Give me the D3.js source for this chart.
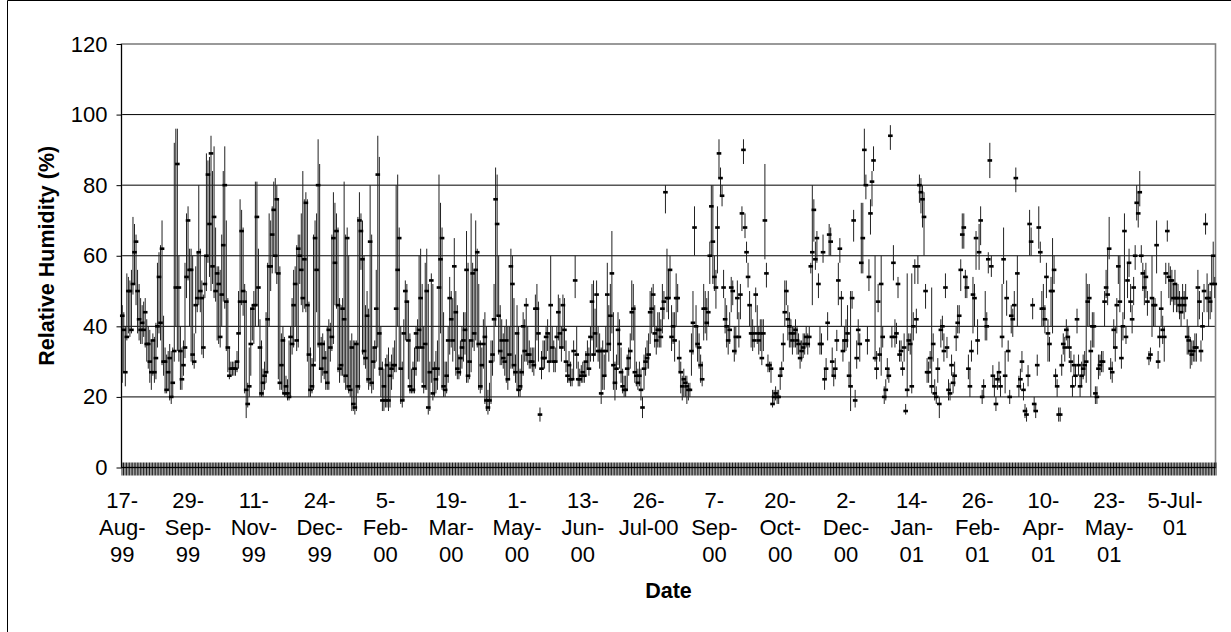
<!DOCTYPE html>
<html>
<head>
<meta charset="utf-8">
<script src="https://cdn.jsdelivr.net/npm/d3@7"></script>
<style>
  html, body { margin: 0; padding: 0; background: #fff; }
  svg { display: block; font-family: "Liberation Sans", Arial, sans-serif; }
</style>
</head>
<body>
<script>
// daily relative humidity, 17-Aug-99 .. 31-Jul-01 (one value per day)
var startDate = new Date(Date.UTC(1999, 7, 17));

var closes = [
  43,39,27,37,50,50,39,52,61,64, 50,42,39,41,39,44,35,35,30,27, 36,27,31,40,54,41,62,30,30,22,
  27,31,20,24,33,51,86,51,33,25, 29,34,54,70,56,56,32,30,46,48, 61,50,48,34,52,60,83,69,89,57,
  71,50,55,52,37,49,63,80,47,34, 26,28,28,28,28,30,38,47,67,50, 47,22,18,23,35,45,46,46,71,51,
  34,21,24,26,27,42,57,57,66,73, 60,76,55,24,29,36,21,23,21,20, 37,35,46,52,36,62,60,56,48,59,
  75,46,32,22,23,29,65,56,80,35, 28,35,31,27,24,39,34,37,65,58, 67,46,28,29,45,42,26,65,23,22,
  34,18,17,35,23,70,67,59,33,31, 43,25,64,24,30,34,45,83,38,28, 19,23,19,29,19,26,28,29,
  29,45,56,65,28,19,38,50,47,36, 23,22,22,28,38,34,39,48,34,23, 35,50,17,27,53,21,28,25,28,51,
  59,65,23,22,26,36,48,42,36,57, 44,28,27,31,34,36,39,56,26,30, 36,55,38,56,61,35,23,29,35,37,
  19,17,19,30,32,42,76,69,43,33, 36,31,30,36,25,32,57,52,29,27, 38,22,23,27,40,33,46,32,32,30,
  30,29,45,
  45,38,15,28,31,31,37,38,30,46, 34,30,30,37,44,38,34,46,39,30, 26,29,25,25,33,53,32,25,25,26,
  27,26,30,32,28,37,47,32,38,49, 33,33,21,33,26,33,49,35,43,55, 29,24,28,39,35,27,23,22,22,28,
  31,33,44,45,27,26,24,26,22,17, 28,30,31,32,44,45,49,38,36,39, 39,37,45,47,78,48,48,56,37,40,
  36,48,48,31,27,23,25,24,23,22, 22,33,41,68,40,35,34,29,25,45, 45,41,44,60,74,64,54,51,68,89,
  82,77,51,42,40,36,39,51,50,33, 37,48,37,49,72,90,68,61,54,46, 38,38,36,49,38,36,38,31,38,70,
  55,29,29,28,18,20,21,20,20,26, 28,35,44,50,42,40,38,36,38,39, 36,35,31,33,34,35,37,35,37,57,
  61,73,59,65,52,35,35,61,25,28, 41,66,64,30,26,28,36,53,62,48, 33,36,36,38,26,23,48,70,19,31,
  39,35,58,65,90,80,36,54,72,81, 87,31,28,47,32,52,37,20,22,28, 26,94,37,58,37,38,52,32,33,28,
  34,16,22,36,35,23,40,57,42,57, 80,78,76,71,50,27,27,31,23,35, 21,20,28,18,39,40,33,51,
  34,22,21,29,24,26,37,41,43,56, 66,68,54,51,28,23,33,49,48,65, 36,61,70,20,23,42,40,59,87,57,
  26,23,18,25,27,23,37,59,26,48, 33,20,43,42,46,82,55,23,25,30, 22,16,15,26,69,64,46,18,16,29,
  68,61,45,45,42,54,38,35,50,50, 56,26,23,15,15,29,35,34,39,37, 34,30,23,29,26,42,29,23,
  26,28,29,30,47,48,33,40,40,21, 20,28,29,30,30,47,51,49,62,28, 27,39,34,46,57,47,31,40,67,37,
  53,58,47,42,51,60,75,72,78,60, 55,51,54,47,31,32,48,46,46,63, 30,37,45,39,37,55,67,54,53,53,
  48,52,48,48,46,44,48,46,48,37, 36,33,32,33,34,34,51,47,33,40, 50,69,48,48,47,52,60,52
];

var highs = [
  46,44,40,55,54,53,56,71,69,66, 56,52,48,46,47,48,42,40,39,36, 38,37,41,58,61,63,70,43,34,32,
  33,35,33,34,92,96,96,60,40,34, 36,58,72,74,62,62,60,38,57,61, 80,62,53,49,60,89,87,88,94,84,
  91,68,57,57,56,66,84,91,70,48, 34,30,30,30,30,33,50,76,73,68, 52,50,24,34,45,46,50,81,81,62,
  42,36,28,30,44,58,72,70,74,81, 82,80,76,57,38,40,37,26,25,36, 40,48,56,57,63,66,66,72,84,76,
  78,76,47,34,31,66,70,72,93,86, 37,38,36,33,40,42,41,66,78,75, 72,68,48,46,48,81,66,68,60,36,
  38,36,36,36,71,78,72,70,60,46, 50,45,80,66,34,36,56,94,88,40, 30,28,31,32,34,30,32,34,
  36,80,83,68,40,30,42,53,52,47, 38,28,30,34,40,42,60,62,52,40, 58,62,52,30,55,52,30,33,36,83,
  75,68,44,30,30,40,54,50,48,65, 50,46,32,36,40,44,44,67,58,36, 72,58,56,70,62,52,36,34,42,44,
  40,22,24,36,36,52,85,83,60,46, 42,38,40,42,40,40,62,60,48,32, 46,40,28,32,44,42,48,40,36,34,
  34,34,49,
  52,47,17,33,36,36,40,42,38,60, 40,36,34,40,49,48,40,49,48,36, 30,33,30,28,36,60,40,30,28,29,
  30,30,33,36,34,40,52,53,45,53, 40,38,34,36,32,40,58,46,52,67, 44,30,32,44,42,34,28,26,26,32,
  34,38,53,52,46,30,28,30,28,20, 32,34,36,38,50,51,52,46,40,44, 44,42,52,50,80,62,56,60,46,44,
  44,55,52,36,30,26,28,26,26,24, 24,38,50,74,46,40,38,32,30,52, 50,48,50,64,80,80,60,56,74,93,
  85,80,56,48,46,40,44,54,53,40, 40,53,44,52,74,93,72,64,58,50, 46,42,40,51,46,40,42,42,42,86,
  58,32,30,30,22,22,23,22,22,28, 30,38,53,53,46,44,42,40,40,42, 40,38,36,36,38,38,40,38,40,58,
  80,76,64,67,55,40,38,66,28,31, 44,69,68,34,28,31,39,58,65,50, 36,40,42,46,30,50,50,73,22,36,
  42,38,75,75,96,83,40,59,76,84, 91,60,33,52,34,60,40,23,25,31, 28,97,40,63,42,41,54,36,36,30,
  38,18,55,38,38,55,44,59,45,60, 83,82,80,78,52,31,30,33,51,38, 25,23,31,20,42,43,38,55,
  37,25,24,32,27,30,40,46,46,59, 72,72,56,54,32,28,36,54,52,67, 42,69,74,22,25,50,44,61,92,60,
  29,26,20,27,30,26,52,68,33,53, 36,22,46,45,50,85,60,26,28,33, 24,18,17,29,73,68,48,20,18,32,
  74,64,50,52,46,58,42,37,54,65, 60,28,25,17,17,32,38,37,42,40, 37,33,26,32,29,45,32,26,
  30,32,33,55,52,52,36,44,44,23, 23,32,32,33,33,50,56,62,71,31, 30,42,40,48,60,60,40,44,72,40,
  58,62,52,46,54,63,80,78,84,63, 58,56,58,50,33,34,60,48,48,70, 33,40,50,43,40,58,70,58,57,56,
  52,56,52,52,50,48,52,50,52,42, 40,37,36,36,38,38,56,50,36,44, 52,72,55,52,50,60,64,54
];

var lows = [
  24,27,23,36,38,37,38,49,52,46, 38,36,35,35,37,34,30,28,24,22, 26,24,25,34,38,36,29,26,21,21,
  22,19,18,20,30,40,33,30,22,22, 26,31,48,53,40,30,29,28,38,44, 46,44,32,31,48,50,58,54,50,52,
  48,47,36,35,34,40,47,45,33,27, 25,26,26,26,26,27,28,38,46,43, 21,14,17,20,26,36,35,40,46,40,
  20,20,20,22,24,27,40,50,55,60, 55,52,25,22,22,21,20,20,19,19, 20,32,34,40,33,34,52,46,44,45,
  44,30,20,20,21,22,30,44,34,28, 24,26,25,22,22,22,30,33,35,46, 45,27,24,26,26,24,22,22,21,20,
  16,16,15,16,21,22,56,32,29,28, 24,22,23,21,22,28,30,34,26,20, 16,16,17,17,16,17,22,25,
  27,27,40,28,18,17,19,36,36,25, 21,21,21,21,26,30,30,34,24,21, 22,22,15,16,24,19,20,21,22,26,
  38,22,20,20,21,24,32,34,30,33, 26,25,25,26,28,30,32,24,24,25, 27,34,33,36,34,22,21,22,28,18,
  16,15,16,18,26,30,40,43,32,29, 29,28,26,24,22,25,28,28,26,24, 22,20,20,22,26,30,30,29,28,28,
  27,26,28,
  36,30,13,25,28,28,31,33,27,30, 30,27,27,30,36,34,30,34,33,27, 24,24,23,23,25,48,28,23,23,24,
  24,24,26,28,26,30,36,30,32,34, 30,28,18,22,22,26,33,30,33,38, 22,19,22,29,28,24,21,20,20,22,
  26,28,36,36,24,23,22,23,19,14, 22,26,28,28,35,38,40,34,32,34, 34,34,38,42,72,44,42,48,33,35,
  30,40,44,27,21,19,20,20,18,19, 20,26,32,60,34,30,28,24,23,36, 38,36,40,52,60,52,50,45,55,82,
  77,74,48,38,34,32,35,44,46,30, 32,42,34,42,67,86,65,58,51,40, 34,33,34,44,35,32,33,29,33,59,
  51,27,27,24,17,18,19,18,18,22, 26,30,40,46,36,34,34,32,34,34, 32,32,28,30,31,32,34,32,34,55,
  46,64,56,58,48,32,32,58,22,25, 36,60,60,26,23,25,33,46,58,40, 30,33,33,34,23,16,45,64,17,28,
  35,30,55,55,80,76,32,50,66,74, 84,30,25,44,30,26,34,18,19,25, 24,90,34,53,34,35,48,30,30,26,
  30,15,20,33,32,21,36,52,38,52, 75,72,68,60,45,24,24,28,21,30, 19,18,24,14,34,36,30,48,
  31,19,19,26,21,23,33,38,38,50, 62,62,48,48,25,20,30,38,40,56, 32,56,63,18,20,36,36,55,82,54,
  23,20,16,22,24,20,34,52,21,43, 30,18,38,37,42,78,40,20,22,27, 19,14,13,23,60,60,42,16,14,26,
  62,58,40,40,38,48,30,30,40,38, 52,23,20,13,13,26,32,30,36,34, 31,27,20,26,23,38,26,20,
  23,25,26,24,40,40,20,34,34,18, 18,25,26,27,27,40,48,46,59,25, 24,34,30,38,52,44,28,36,42,35,
  48,54,44,38,46,56,70,68,74,58, 50,46,48,43,29,30,37,40,40,55, 28,34,40,35,30,52,64,48,46,47,
  44,46,44,44,42,40,44,42,44,32, 32,28,29,30,30,30,40,42,30,36, 44,66,44,40,42,44,52,48
];

var yTicks = [0, 20, 40, 60, 80, 100, 120];
var labelEvery = 43;
var xLabels = [
  ["17-", "Aug-", "99"], ["29-", "Sep-", "99"], ["11-", "Nov-", "99"], ["24-", "Dec-", "99"],
  ["5-", "Feb-", "00"], ["19-", "Mar-", "00"], ["1-", "May-", "00"], ["13-", "Jun-", "00"],
  ["26-", "Jul-00"], ["7-", "Sep-", "00"], ["20-", "Oct-", "00"], ["2-", "Dec-", "00"],
  ["14-", "Jan-", "01"], ["26-", "Feb-", "01"], ["10-", "Apr-", "01"], ["23-", "May-", "01"],
  ["5-Jul-", "01"]
];

function drawChart () {
  var w      = 1231,
      h      = 632,
      left   = 121.5,
      right  = 1215.5,
      top    = 44,
      bottom = 467.5;

  var dates = d3.utcDay.range(startDate, d3.utcDay.offset(startDate, closes.length));
  var days = dates.map(function (d, i) {
    return { date: d, hi: highs[i], lo: lows[i], cl: closes[i] };
  });

  var xScale = d3.scaleBand().domain(dates).range([left, right]);
  var xEdge  = d3.scaleLinear().domain([0, dates.length]).range([left, right]);
  var yScale = d3.scaleLinear().domain([0, 120]).range([bottom, top]);

  var svg = d3.select("body").append("svg")
    .attr("width", w)
    .attr("height", h);

  svg.append("rect").attr("width", w).attr("height", h).attr("fill", "#fff");

  // chart area frame (left and top edges are visible)
  svg.append("path")
    .attr("d", "M7.5," + h + "V0.5H" + w)
    .attr("fill", "none")
    .attr("stroke", "#000");

  // gridlines
  svg.append("g").selectAll("line")
    .data(yTicks.filter(function (d) { return d > 0 && d < 120; }))
    .enter().append("line")
    .attr("x1", left).attr("x2", right)
    .attr("y1", function (d) { return yScale(d); })
    .attr("y2", function (d) { return yScale(d); })
    .attr("stroke", "#000")
    .attr("stroke-width", 1);

  // plot area border
  svg.append("rect")
    .attr("x", left).attr("y", top)
    .attr("width", right - left).attr("height", bottom - top)
    .attr("fill", "none")
    .attr("stroke", "#808080")
    .attr("stroke-width", 1.6);

  // high-low bars
  var cx = function (d) { return xScale(d.date) + xScale.bandwidth() / 2; };
  svg.append("g").selectAll("line")
    .data(days)
    .enter().append("line")
    .attr("x1", cx).attr("x2", cx)
    .attr("y1", function (d) { return yScale(d.hi); })
    .attr("y2", function (d) { return yScale(d.lo); })
    .attr("stroke", "#222")
    .attr("stroke-width", 1);

  // close marks
  svg.append("g").selectAll("rect")
    .data(days)
    .enter().append("rect")
    .attr("x", function (d) { return cx(d) - 2.3; })
    .attr("y", function (d) { return yScale(d.cl) - 1.3; })
    .attr("width", 4.6)
    .attr("height", 2.6)
    .attr("fill", "#000");

  // y axis
  var yAxis = d3.axisLeft(yScale)
    .tickValues(yTicks)
    .tickSize(5)
    .tickPadding(9);
  var gy = svg.append("g")
    .attr("transform", "translate(" + left + ",0)")
    .call(yAxis);
  gy.select(".domain").remove();
  gy.selectAll("text").attr("font-size", 22).attr("fill", "#000")
    .attr("font-family", "Liberation Sans, Arial, sans-serif");
  gy.selectAll(".tick line").attr("stroke", "#000");
  svg.append("line")
    .attr("x1", left).attr("x2", left)
    .attr("y1", top).attr("y2", bottom)
    .attr("stroke", "#000");

  // dense category tick marks, crossing the axis
  var tickAxis = d3.axisBottom(xEdge)
    .tickValues(d3.range(dates.length + 1))
    .tickSize(8)
    .tickFormat("");
  var gt = svg.append("g")
    .attr("transform", "translate(0," + bottom + ")")
    .call(tickAxis);
  gt.select(".domain").remove();
  gt.selectAll(".tick line").attr("y1", -5).attr("stroke", "#000").attr("stroke-width", 0.9);

  svg.append("line")
    .attr("x1", left).attr("x2", right)
    .attr("y1", bottom).attr("y2", bottom)
    .attr("stroke", "#000");

  // date labels, every 43rd day, wrapped as in the original
  var labelDates = dates.filter(function (d, i) { return i % labelEvery === 0; });
  var xAxis = d3.axisBottom(xScale)
    .tickValues(labelDates)
    .tickSize(0)
    .tickFormat("");
  var gx = svg.append("g")
    .attr("transform", "translate(0," + bottom + ")")
    .call(xAxis);
  gx.select(".domain").remove();
  gx.selectAll(".tick text").remove();
  gx.selectAll(".tick").each(function (d, i) {
    var t = d3.select(this).append("text")
      .attr("text-anchor", "middle")
      .attr("font-size", 22)
      .attr("font-family", "Liberation Sans, Arial, sans-serif")
      .attr("fill", "#000");
    xLabels[i].forEach(function (line, j) {
      t.append("tspan").attr("x", 0).attr("y", 40 + j * 27).text(line);
    });
  });

  // axis titles
  svg.append("text")
    .attr("x", (left + right) / 2)
    .attr("y", 598)
    .attr("text-anchor", "middle")
    .attr("font-size", 21.5)
    .attr("font-weight", "bold")
    .text("Date");

  svg.append("text")
    .attr("transform", "translate(54," + (top + bottom) / 2 + ") rotate(-90)")
    .attr("text-anchor", "middle")
    .attr("font-size", 21.5)
    .attr("font-weight", "bold")
    .text("Relative Humidity (%)");

  return { svg: svg, xScale: xScale, yScale: yScale };
}

var chart = drawChart();
</script>
</body>
</html>
